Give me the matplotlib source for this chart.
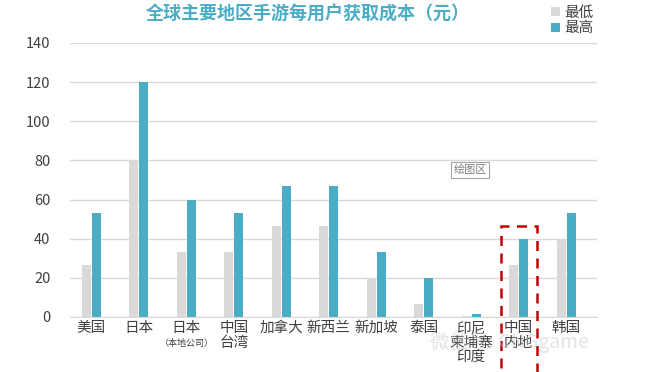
import matplotlib.pyplot as plt
import numpy as np
from matplotlib.patches import Rectangle

plt.rcParams['font.family'] = ['Noto Sans CJK SC', 'DejaVu Sans']

# data
regions = ["美国", "日本", "日本", "中国\n台湾", "加拿大", "新西兰", "新加坡",
           "泰国", "印尼\n柬埔寨\n印度", "中国\n内地", "韩国"]
low = [26.7, 80, 33.3, 33.3, 46.7, 46.7, 20, 6.7, 0.5, 26.7, 40]
high = [53.3, 120, 60, 53.3, 66.7, 66.7, 33.3, 20, 1.3, 40, 53.3]
yticks = [0, 20, 40, 60, 80, 100, 120, 140]

grey = "#d9d9d9"
blue = "#4bacc6"
text_col = "#404040"

fig = plt.figure(figsize=(6.65, 3.72), dpi=100)
ax = fig.add_axes([70 / 665, 55 / 372, (597 - 70) / 665, (317 - 43) / 372])

x = np.arange(len(regions))
w = 0.19
ax.bar(x - 0.105, low, width=w, color=grey, label="最低", zorder=2)
ax.bar(x + 0.105, high, width=w, color=blue, label="最高", zorder=2)

ax.set_ylim(0, 140)
ax.set_xlim(-0.45, 10.65)
ax.set_yticks(yticks)
ax.set_xticks(x)
ax.set_xticklabels(regions, fontsize=10.5, color=text_col, linespacing=1.05)
ax.tick_params(axis='y', labelsize=10.5, labelcolor=text_col, length=0, pad=14)
ax.tick_params(axis='x', length=0, pad=3)
ax.yaxis.grid(True, color="#d9d9d9", linewidth=1, zorder=0)
for s in ["top", "right", "left"]:
    ax.spines[s].set_visible(False)
ax.spines["bottom"].set_color("#d9d9d9")

# small sub-label under the second 日本
ax.text(2, -13.5, "（本地公司）", fontsize=6.5, color=text_col, ha="center", va="center")

# red dashed highlight box
ax.add_patch(Rectangle((9 - 0.38, -40), 0.76, 86.5, fill=False, edgecolor="#c00000",
                       linestyle=(0, (4, 3)), linewidth=1.8, clip_on=False, zorder=5))

# Excel "plot area" tooltip
fig.text(470 / 665, 1 - 170 / 372, "绘图区", fontsize=8, color="#7f7f7f", ha="center", va="center",
         bbox=dict(boxstyle="square,pad=0.25", facecolor="white", edgecolor="#a6a6a6", linewidth=0.8))

# watermark
fig.text(430 / 665, 1 - 342 / 372, "微信号: CNGgame", fontsize=14, color="#c8c8c8",
         alpha=0.5, ha="left", va="center", zorder=0)

fig.text(308 / 665, 1 - 14 / 372, "全球主要地区手游每用户获取成本（元）", fontsize=13,
         fontweight="bold", color=blue, ha="center", va="center")

ax.legend(loc="upper left", bbox_to_anchor=(545 / 665, 1.0), bbox_transform=fig.transFigure,
          frameon=False, fontsize=10.5, handlelength=0.6, handleheight=0.6, handletextpad=0.3,
          labelspacing=0.1, borderaxespad=0, labelcolor=text_col)

fig.savefig("out.png", dpi=100)
